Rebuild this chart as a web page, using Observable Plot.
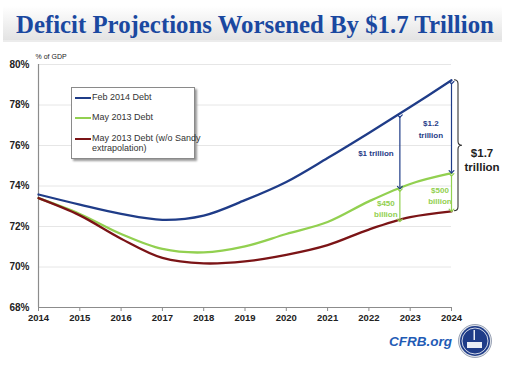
<!DOCTYPE html>
<html><head><meta charset="utf-8">
<script src="https://cdn.jsdelivr.net/npm/d3@7"></script>
<script src="https://cdn.jsdelivr.net/npm/@observablehq/plot@0.6"></script>
<style>
body{margin:0;background:#fff;font-family:Arial,"Liberation Sans",sans-serif;}
#wrap{position:relative;width:505px;height:365px;overflow:hidden;}
#head{position:absolute;left:0;top:0;}
#chart{position:absolute;left:0;top:48px;}
#legend{position:absolute;left:71px;top:87px;width:122px;height:70px;border:1px solid #8a8a8a;background:#fff;box-shadow:2px 2px 2px #9a9a9a;font-size:9px;color:#333;}
.li{position:absolute;left:3px;display:flex;align-items:flex-start;line-height:10px;white-space:nowrap;}
.sw{width:16px;height:2px;margin-top:5px;margin-right:1px;flex:none;}
#foot{position:absolute;left:0;top:322px;}
</style></head>
<body><div id="wrap">
<svg id="head" width="505" height="48">
<defs><linearGradient id="g" x1="0" y1="0" x2="0" y2="1"><stop offset="0" stop-color="#ffffff"/><stop offset="1" stop-color="#e3e3e3"/></linearGradient></defs>
<rect x="3" y="6" width="499" height="34" fill="url(#g)"/>
<rect x="3" y="40" width="499" height="2" fill="#ececec"/>
<text id="title" x="16" y="33" font-family="'Liberation Serif','DejaVu Serif',serif" font-weight="bold" font-size="26" fill="#1a48a0"></text>
</svg>
<div id="chart"></div>
<div id="legend"></div>
<svg id="foot" width="505" height="43"></svg>
</div>
<script>
const titleText = "Deficit Projections Worsened By $1.7 Trillion";
const years = [2014, 2015, 2016, 2017, 2018, 2019, 2020, 2021, 2022, 2023, 2024];
const feb2014 = [73.58, 73.08, 72.62, 72.33, 72.54, 73.3, 74.2, 75.38, 76.62, 77.9, 79.22];
const may2013 = [73.4, 72.62, 71.63, 70.89, 70.72, 71.02, 71.63, 72.22, 73.24, 74.1, 74.63];
const noSandy = [73.4, 72.55, 71.4, 70.45, 70.18, 70.28, 70.6, 71.08, 71.85, 72.46, 72.75];
const seriesNames = ["Feb 2014 Debt", "May 2013 Debt", "May 2013 Debt (w/o Sandy extrapolation)"];
const legendNames = ["Feb 2014 Debt", "May 2013 Debt", "May 2013 Debt (w/o Sandy<br>extrapolation)"];
const seriesColors = ["#1f3c88", "#92d050", "#7b1416"];
const yTicks = [68, 70, 72, 74, 76, 78, 80];
// gap annotations
const gapX = [2022.75, 2022.75, 2024, 2024];
const gapTop = [77.45, 73.8, 79.1, 74.55];
const gapBottom = [73.92, 72.3, 74.7, 72.8];
const gapColors = ["#1f3c88", "#92d050", "#1f3c88", "#92d050"];
const gapLabels = ["$1 trillion", "$450\nbillion", "$1.2\ntrillion", "$500\nbillion"];
const gapLabelX = [2022.17, 2022.41, 2023.5, 2023.72];
const gapLabelY = [75.66, 72.93, 76.86, 73.57];
const totalLabel = "$1.7\ntrillion";
const braceTop = 79.22, braceBottom = 72.75;

const t = document.getElementById("title");
t.textContent = titleText;
const w0 = t.getComputedTextLength();
if (w0 > 0) t.setAttribute("font-size", (26 * 478 / w0).toFixed(2));

const rows = [];
[feb2014, may2013, noSandy].forEach((vals, s) => years.forEach((yr, i) => rows.push({year: yr, value: vals[i], series: seriesNames[s]})));
const gaps = gapX.map((x, i) => ({x, y1: gapTop[i], y2: gapBottom[i], c: gapColors[i]}));
const labels = gapLabels.map((t, i) => ({t, x: gapLabelX[i], y: gapLabelY[i], c: gapColors[i]}));

const brace = (index, scales) => {
  const x0 = scales.x(2024) + 3, w = 8;
  const yA = scales.y(braceTop), yB = scales.y(braceBottom), ym = (yA + yB) / 2;
  const p = `M${x0},${yA} q${w/2},0 ${w/2},${w/2} L${x0+w/2},${ym-w/2} q0,${w/2} ${w/2},${w/2} q-${w/2},0 -${w/2},${w/2} L${x0+w/2},${yB-w/2} q0,${w/2} -${w/2},${w/2}`;
  return d3.create("svg:path").attr("d", p).attr("fill", "none").attr("stroke", "#333").attr("stroke-width", 1.1).node();
};

const chart = Plot.plot({
  width: 505, height: 317,
  marginLeft: 38, marginRight: 54, marginTop: 16, marginBottom: 58,
  style: {fontFamily: "Arial, 'Liberation Sans', sans-serif", background: "transparent"},
  x: {domain: [2014, 2024], ticks: years, tickFormat: d => String(d), label: null},
  y: {domain: [68, 80], ticks: yTicks, tickFormat: d => d + "%", label: null},
  color: {domain: seriesNames, range: seriesColors},
  marks: [
    Plot.gridY(yTicks.filter(d => d > 68), {stroke: "#e6e6e6", strokeOpacity: 1}),
    Plot.ruleX([2014], {stroke: "#8c8c8c", strokeWidth: 1.2}),
    Plot.ruleY([68], {stroke: "#8c8c8c", strokeWidth: 1.2}),
    Plot.axisX({ticks: years, tickSize: 4, tickPadding: 3, fontSize: 9.5, fontWeight: "bold", stroke: "#8c8c8c", color: "#222", tickFormat: d => String(d)}),
    Plot.axisY({ticks: yTicks, tickSize: 0, tickPadding: 9, fontSize: 10, fontWeight: "bold", color: "#222", tickFormat: d => d + "%"}),
    Plot.text(["% of GDP"], {frameAnchor: "top-left", dx: -3, dy: -10, fontSize: 7, fill: "#222", textAnchor: "start"}),
    Plot.line(rows, {x: "year", y: "value", z: "series", stroke: "series", strokeWidth: 2.3, curve: "catmull-rom"}),
    Plot.link(gaps, {x1: "x", x2: "x", y1: "y1", y2: "y2", stroke: "c", strokeWidth: 1.2, markerStart: "arrow", markerEnd: "arrow"}),
    Plot.text(labels, {x: "x", y: "y", text: "t", fill: "c", fontSize: 8, fontWeight: "bold", lineHeight: 1.45}),
    brace,
    Plot.text([totalLabel], {x: [2024.74], y: [75.3], fontSize: 11.5, fontWeight: "bold", fill: "#222", lineHeight: 1.25})
  ]
});
document.getElementById("chart").append(chart);

const leg = document.getElementById("legend");
const tops = [4, 24, 45];
legendNames.forEach((n, i) => {
  const d = document.createElement("div");
  d.className = "li"; d.style.top = tops[i] + "px";
  d.innerHTML = `<span class="sw" style="background:${seriesColors[i]}"></span><span>${n}</span>`;
  leg.append(d);
});

const foot = d3.select("#foot");
foot.append("text").attr("x", 452).attr("y", 24).attr("text-anchor", "end")
  .attr("font-family", "Arial, 'Liberation Sans', sans-serif").attr("font-style", "italic").attr("font-weight", "bold")
  .attr("font-size", 13.5).attr("fill", "#1f5bb5").text("CFRB.org");
foot.append("circle").attr("cx", 475).attr("cy", 19).attr("r", 16.5).attr("fill", "#dfe3ea").attr("stroke", "#9aa3b5");
foot.append("circle").attr("cx", 475).attr("cy", 19).attr("r", 15).attr("fill", "#1f3c88");
foot.append("circle").attr("cx", 475).attr("cy", 19).attr("r", 13).attr("fill", "none").attr("stroke", "#ffffff").attr("stroke-width", 0.8);
foot.append("rect").attr("x", 467).attr("y", 20).attr("width", 15).attr("height", 6).attr("fill", "#e9edf5");
foot.append("rect").attr("x", 473.5).attr("y", 8).attr("width", 1.5).attr("height", 10).attr("fill", "#e9edf5");
</script>
</body></html>
